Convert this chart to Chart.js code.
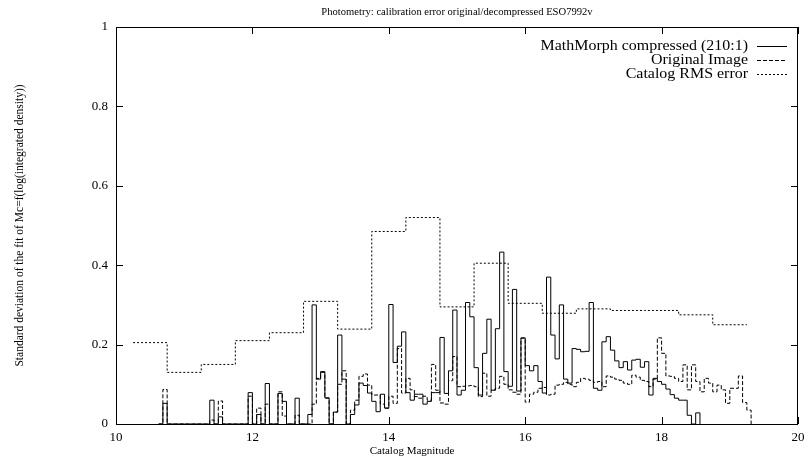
<!DOCTYPE html>
<html>
<head>
<meta charset="utf-8">
<title>Photometry calibration error</title>
<script src="https://cdn.jsdelivr.net/npm/chart.js@4.4.1/dist/chart.umd.min.js"></script>
<style>
    html, body { margin: 0; padding: 0; background: #fff; }
    #chart-box { width: 812px; height: 463px; }
</style>
</head>
<body>
<div id="chart-box"><canvas id="chart" width="812" height="463"></canvas></div>
<script>
// Magnitude bins are 1/16 mag wide, the first one starts at 10.625
const binStart = 10.625;
const binWidth = 0.0625;

// MathMorph compressed (210:1), one value per bin
const compressedError = [
    0, 0.052, 0, 0, 0, 0, 0, 0, 0, 0,
    0, 0, 0.06, 0, 0.018, 0, 0, 0, 0, 0,
    0, 0.079, 0, 0.024, 0, 0.102, 0, 0, 0.077, 0.057,
    0, 0, 0.065, 0, 0, 0.024, 0.30, 0.113, 0.132, 0.066,
    0, 0.03, 0.224, 0.113, 0, 0.024, 0.048, 0.103, 0.097, 0.078,
    0.057, 0.031, 0.075, 0.04, 0.301, 0.155, 0.196, 0.232, 0.079, 0.06,
    0.075, 0.075, 0.05, 0.057, 0.079, 0.079, 0.218, 0.077, 0.134, 0.287,
    0.073, 0.085, 0.306, 0.27, 0.142, 0.073, 0.178, 0.264, 0.085, 0.24,
    0.433, 0.132, 0.095, 0.339, 0.083, 0.217, 0.147, 0.134, 0.147, 0.107,
    0.078, 0.37, 0.224, 0.164, 0.30, 0.113, 0.103, 0.19, 0.188, 0.182,
    0.183, 0.306, 0.09, 0.085, 0.207, 0.22, 0.186, 0.159, 0.142, 0.157,
    0.136, 0.161, 0.163, 0.143, 0.157, 0.073, 0.115, 0.107, 0.10, 0.088,
    0.074, 0.065, 0.06, 0.06, 0.022, 0, 0.028
];

// Original image, same bins
const originalError = [
    0, 0.087, 0, 0, 0, 0, 0, 0, 0, 0,
    0, 0, 0.01, 0, 0.058, 0, 0, 0, 0, 0,
    0, 0.07, 0, 0.04, 0, 0.05, 0, 0, 0.081, 0.02,
    0, 0, 0.022, 0, 0, 0, 0.05, 0.115, 0.13, 0.065,
    0, 0.03, 0.10, 0.134, 0, 0.035, 0.06, 0.12, 0.126, 0.098,
    0.073, 0.073, 0.05, 0.04, 0.07, 0.052, 0.19, 0.078, 0.115, 0.086,
    0.069, 0.065, 0.07, 0.06, 0.15, 0.085, 0.053, 0.05, 0.109, 0.17,
    0.094, 0.095, 0.096, 0.097, 0.094, 0.069, 0.128, 0.07, 0.086, 0.09,
    0.12, 0.10, 0.086, 0.08, 0.075, 0.216, 0.055, 0.075, 0.08, 0.09,
    0.092, 0.073, 0.075, 0.098, 0.10, 0.105, 0.10, 0.094, 0.105, 0.115,
    0.113, 0.11, 0.105, 0.107, 0.094, 0.121, 0.118, 0.113, 0.11, 0.103,
    0.10, 0.123, 0.118, 0.11, 0.107, 0.094, 0.113, 0.217, 0.178, 0.121,
    0.12, 0.115, 0.107, 0.149, 0.086, 0.149, 0.107, 0.081, 0.115, 0.103,
    0.081, 0.098, 0.086, 0.052, 0.09, 0.09, 0.121, 0.054, 0.035
];

// Catalog RMS error per half magnitude (bin centres)
const catalogMagnitudes = [10.5, 11, 11.5, 12, 12.5, 13, 13.5, 14, 14.5, 15, 15.5, 16, 16.5, 17, 17.5, 18, 18.5, 19];
const catalogRmsError = [0.205, 0.13, 0.15, 0.21, 0.23, 0.309, 0.239, 0.485, 0.52, 0.295, 0.405, 0.304, 0.279, 0.29, 0.286, 0.286, 0.275, 0.25];

const xTicks = [10, 12, 14, 16, 18, 20];
const yTicks = [0, 0.2, 0.4, 0.6, 0.8, 1];

const seriesNames = ['MathMorph compressed (210:1)', 'Original Image', 'Catalog RMS error'];

const serif = '"Liberation Serif", "Times New Roman", serif';

// histogram bins -> step points (left edge of every bin, then back down to 0)
function binSteps(values) {
    const pts = values.map((v, i) => ({ x: binStart + i * binWidth, y: v }));
    pts.push({ x: binStart + values.length * binWidth, y: 0 });
    return pts;
}

// half-magnitude steps centred on the catalog magnitudes
function centredSteps(centres, values) {
    const half = (centres[1] - centres[0]) / 2;
    const pts = centres.map((c, i) => ({ x: c - half, y: values[i] }));
    pts.push({ x: centres[centres.length - 1] + half, y: values[values.length - 1] });
    return pts;
}

// frame, inward ticks on all four sides, titles and key
const gnuplotFrame = {
    id: 'gnuplotFrame',
    afterDatasetsDraw(chart) {
        const { ctx, chartArea: a, scales: { x, y } } = chart;
        ctx.save();
        ctx.strokeStyle = '#000';
        ctx.lineWidth = 1;
        ctx.beginPath();
        xTicks.forEach(v => {
            const px = Math.round(x.getPixelForValue(v)) + 0.5;
            ctx.moveTo(px, a.bottom);
            ctx.lineTo(px, a.bottom - 7);
            ctx.moveTo(px, a.top);
            ctx.lineTo(px, a.top + 7);
        });
        yTicks.forEach(v => {
            const py = Math.round(y.getPixelForValue(v)) + 0.5;
            ctx.moveTo(a.left, py);
            ctx.lineTo(a.left + 7, py);
            ctx.moveTo(a.right, py);
            ctx.lineTo(a.right - 7, py);
        });
        ctx.stroke();
        ctx.strokeRect(a.left + 0.5, a.top + 0.5, a.right - a.left - 1, a.bottom - a.top);

        ctx.fillStyle = '#000';
        ctx.textBaseline = 'middle';
        ctx.textAlign = 'center';

        // title over the plot box
        ctx.font = '10.6px ' + serif;
        ctx.fillText('Photometry: calibration error original/decompressed ESO7992v', (a.left + a.right) / 2, 12);

        // x label sits on the page centre, like the original plot
        ctx.font = '11px ' + serif;
        ctx.fillText('Catalog Magnitude', chart.width / 2 + 6, 451);

        // key, top right inside the box (wide PostScript-style lettering)
        ctx.font = '14px ' + serif;
        ctx.textAlign = 'right';
        chart.data.datasets.forEach((ds, i) => {
            const rowY = 46 + i * 14;
            ctx.save();
            ctx.translate(748, rowY);
            ctx.scale(1.14, 1);
            ctx.fillText(ds.label, 0, 0);
            ctx.restore();
            ctx.setLineDash(ds.borderDash || []);
            ctx.beginPath();
            ctx.moveTo(757, rowY + 0.5);
            ctx.lineTo(787, rowY + 0.5);
            ctx.stroke();
        });
        ctx.restore();
    }
};

document.addEventListener('DOMContentLoaded', () => {
    const ctx = document.getElementById('chart').getContext('2d');
    new Chart(ctx, {
        type: 'line',
        data: {
            datasets: [
                {
                    label: seriesNames[0],
                    data: binSteps(compressedError),
                    borderColor: '#000',
                    borderWidth: 1,
                    stepped: 'before',
                    pointRadius: 0,
                    fill: false
                },
                {
                    label: seriesNames[1],
                    data: binSteps(originalError),
                    borderColor: '#000',
                    borderWidth: 1,
                    borderDash: [4, 2],
                    stepped: 'before',
                    pointRadius: 0,
                    fill: false
                },
                {
                    label: seriesNames[2],
                    data: centredSteps(catalogMagnitudes, catalogRmsError),
                    borderColor: '#000',
                    borderWidth: 1,
                    borderDash: [2, 2],
                    stepped: 'before',
                    pointRadius: 0,
                    fill: false
                }
            ]
        },
        options: {
            responsive: false,
            animation: false,
            devicePixelRatio: 1,
            layout: {
                padding: { top: 27, right: 14, bottom: 0, left: 0 }
            },
            plugins: {
                legend: { display: false },
                title: { display: false },
                tooltip: { enabled: false }
            },
            scales: {
                x: {
                    type: 'linear',
                    min: 10,
                    max: 20,
                    afterBuildTicks: s => { s.ticks = xTicks.map(v => ({ value: v })); },
                    afterFit: s => { s.height = 39; },
                    grid: { display: false, drawTicks: false },
                    border: { display: false },
                    ticks: {
                        color: '#000',
                        padding: 6,
                        maxRotation: 0,
                        font: { family: serif, size: 13 },
                        callback: v => String(v)
                    }
                },
                y: {
                    type: 'linear',
                    min: 0,
                    max: 1,
                    afterBuildTicks: s => { s.ticks = yTicks.map(v => ({ value: v })); },
                    afterFit: s => { s.width = 116; },
                    grid: { display: false, drawTicks: false },
                    border: { display: false },
                    ticks: {
                        color: '#000',
                        padding: 8,
                        font: { family: serif, size: 13 },
                        callback: v => String(v)
                    },
                    title: {
                        display: true,
                        text: 'Standard deviation of the fit of Mc=f(log(integrated density))',
                        color: '#000',
                        font: { family: serif, size: 11.5 },
                        padding: { top: 13, bottom: 0 }
                    }
                }
            }
        },
        plugins: [gnuplotFrame]
    });
});
</script>
</body>
</html>
